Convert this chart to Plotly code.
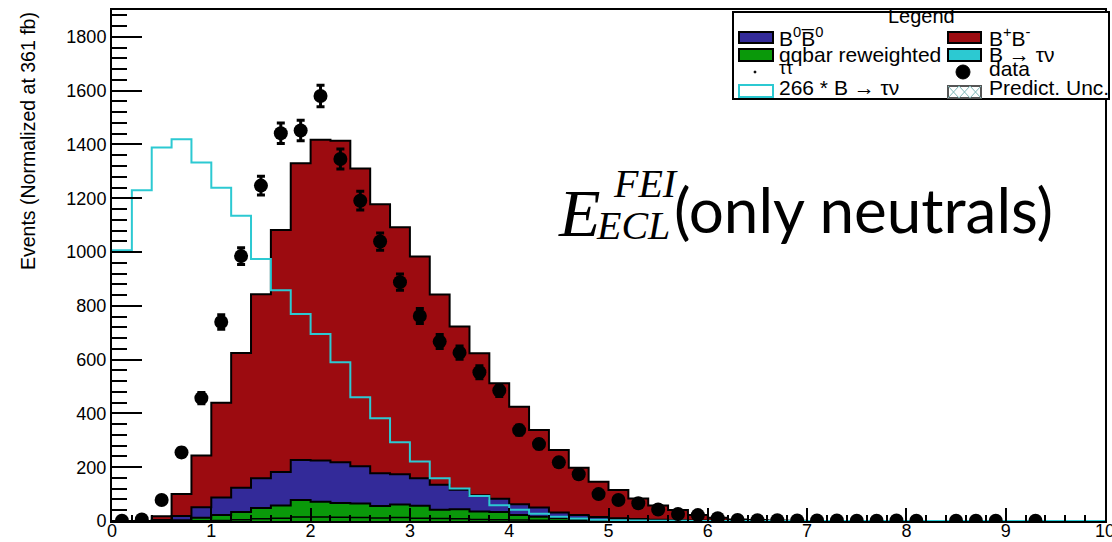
import numpy as np
import plotly.graph_objects as go

# Binning: 50 bins of width 0.2 between 0 and 10
bin_edges = [round(0.2 * k, 1) for k in range(51)]
bin_centers = [round(0.1 + 0.2 * k, 1) for k in range(50)]

# Stack components (events per bin)
tautau = [0, 0, 0, 0, 1, 2, 5, 8, 10, 15, 15, 14, 13, 11, 13, 10, 9, 8, 6, 5,
          4, 3, 2, 1, 1, 0, 0, 0, 0, 0, 0, 0, 0, 0, 0, 0, 0, 0, 0, 0,
          0, 0, 0, 0, 0, 0, 0, 0, 0, 0]
qqbar = [0, 0, 0, 3, 11, 20, 28, 40, 48, 63, 57, 53, 52, 45, 48, 47, 33, 36, 29, 28,
         18, 13, 9, 7, 4, 3, 2, 1, 0, 0, 0, 0, 0, 0, 0, 0, 0, 0, 0, 0,
         0, 0, 0, 0, 0, 0, 0, 0, 0, 0]
b0b0bar = [0, 0, 4, 16, 39, 65, 91, 111, 124, 149, 153, 151, 139, 122, 113, 102, 93, 72, 61, 50,
           40, 34, 21, 14, 10, 7, 5, 4, 3, 2, 1, 0, 0, 0, 0, 0, 0, 0, 0, 0,
           0, 0, 0, 0, 0, 0, 0, 0, 0, 0]
bplusbminus = [0, 0, 14, 81, 193, 353, 501, 684, 900, 1103, 1193, 1196, 1107, 1000, 918, 824, 707, 607, 528, 429,
               363, 288, 232, 176, 131, 105, 77, 53, 38, 20, 11, 6, 4, 2, 1, 0, 0, 0, 0, 0,
               0, 0, 0, 0, 0, 0, 0, 0, 0, 0]

# Signal B -> tau nu scaled by 266
signal_x266 = [1007, 1230, 1389, 1419, 1333, 1239, 1135, 974, 858, 770, 695, 590, 460, 382, 293, 221, 159, 121, 93, 59,
               42, 27, 16, 9, 5, 3, 2, 1, 1, 0, 0, 0, 0, 0, 0, 0, 0, 0, 0, 0,
               0, 0, 0, 0, 0, 0, 0, 0, 0, 0]

# Data (None = empty bin)
data = [1, 6, 78, 255, 457, 740, 985, 1247, 1442, 1452, 1580, 1346, 1191, 1039, 888, 762, 667, 626, 553, 485,
        338, 286, 218, 174, 100, 78, 66, 43, 26, 22, 10, 4, 3, 3, 2, 2, 2, 1, 1, 2,
        1, None, 1, 1, 1, None, 1, None, None, None]
data_err = [1, 2.5, 9, 16, 21, 27, 31, 35, 38, 38, 40, 37, 35, 32, 30, 28, 26, 25, 24, 22,
            18, 17, 15, 13, 10, 9, 8, 7, 5, 5, 3, 2, 2, 2, 1.4, 1.4, 1.4, 1, 1, 1.4,
            1, 0, 1, 1, 1, 0, 1, 0, 0, 0]

x_ticks = list(range(0, 11))
y_ticks = list(range(0, 1801, 200))

RED = "#9c0b10"
BLUE = "#332a99"
GREEN = "#0a990a"
CYAN = "#2cc9d2"
TXT = "Liberation Sans, Arial, sans-serif"

# cumulative stack levels
lvl_tt = np.array(tautau, dtype=float)
lvl_qq = lvl_tt + np.array(qqbar)
lvl_b0 = lvl_qq + np.array(b0b0bar)
lvl_bp = lvl_b0 + np.array(bplusbminus)


def step_y(vals):
    v = list(vals)
    return v + [v[-1]]


fig = go.Figure()

for level, color in [(lvl_bp, RED), (lvl_b0, BLUE), (lvl_qq, GREEN)]:
    fig.add_trace(go.Scatter(
        x=bin_edges, y=step_y(level), mode="lines", line_shape="hv",
        line=dict(color="black", width=2), fill="tozeroy", fillcolor=color,
        showlegend=False, hoverinfo="skip"))

# tau tau: outline only
fig.add_trace(go.Scatter(
    x=bin_edges, y=step_y(lvl_tt), mode="lines", line_shape="hv",
    line=dict(color="black", width=1.5), showlegend=False, hoverinfo="skip"))

# 266 * B -> tau nu
fig.add_trace(go.Scatter(
    x=bin_edges, y=step_y(signal_x266), mode="lines", line_shape="hv",
    line=dict(color=CYAN, width=2), showlegend=False, hoverinfo="skip"))

# data points
fig.add_trace(go.Scatter(
    x=bin_centers, y=data, mode="markers",
    marker=dict(color="black", size=14),
    error_y=dict(type="data", array=data_err, visible=True, color="black",
                 thickness=3, width=4),
    showlegend=False, hoverinfo="skip"))

# ---- pixel helpers for overlay placement ----
X0, X1, Y0, Y1 = 112, 1105, 521, 10


def px(x):
    return (x - X0) / (X1 - X0)


def py(y):
    return (Y0 - y) / (Y0 - Y1)


shapes = []
annotations = []

# legend frame
shapes.append(dict(type="rect", xref="paper", yref="paper",
                   x0=px(733), x1=px(1109), y0=py(99), y1=py(12),
                   line=dict(color="black", width=2), fillcolor="white", layer="above"))
annotations.append(dict(x=px(921), y=py(16), xref="paper", yref="paper",
                        text="Legend", showarrow=False, xanchor="center", yanchor="middle",
                        font=dict(family=TXT, size=20, color="black")))


def box(x0, y0, x1, y1, fill, edge="black"):
    shapes.append(dict(type="rect", xref="paper", yref="paper",
                       x0=px(x0), x1=px(x1), y0=py(y1), y1=py(y0),
                       line=dict(color=edge, width=2), fillcolor=fill, layer="above"))


def label(x, y, text, size=21):
    annotations.append(dict(x=px(x), y=py(y), xref="paper", yref="paper",
                            text=text, showarrow=False, xanchor="left", yanchor="middle",
                            font=dict(family=TXT, size=size, color="black")))


# left column
box(739, 32, 773, 43, BLUE)
label(777, 37, "B<sup>0</sup>B\u0305<sup>0</sup>")
box(739, 49, 773, 61, GREEN)
label(777, 54, "qqbar reweighted")
shapes.append(dict(type="circle", xref="paper", yref="paper",
                   x0=px(754), x1=px(756), y0=py(73), y1=py(71),
                   line=dict(color="black", width=1), fillcolor="black", layer="above"))
label(777, 68, "\u03c4\u03c4", size=18)
box(739, 85, 773, 97, "white", CYAN)
label(777, 87, "266 * B \u2192 \u03c4\u03bd")

# right column
box(948, 32, 981, 43, RED)
label(987, 37, "B<sup>+</sup>B<sup>-</sup>")
box(948, 49, 981, 61, CYAN)
label(987, 54, "B \u2192 \u03c4\u03bd")
shapes.append(dict(type="circle", xref="paper", yref="paper",
                   x0=px(956), x1=px(970), y0=py(79), y1=py(65),
                   line=dict(color="black", width=1), fillcolor="black", layer="above"))
label(987, 68, "data")
box(948, 86, 981, 98, "white", "#555555")
for xa, xb in [(948, 959), (959, 970), (970, 981)]:
    shapes.append(dict(type="line", xref="paper", yref="paper",
                       x0=px(xa), x1=px(xb), y0=py(98), y1=py(86),
                       line=dict(color="#7fb8b8", width=1), layer="above"))
    shapes.append(dict(type="line", xref="paper", yref="paper",
                       x0=px(xa), x1=px(xb), y0=py(86), y1=py(98),
                       line=dict(color="#7fb8b8", width=1), layer="above"))
label(987, 87, "Predict. Unc.")

# y axis title (right-aligned to top of axis)
annotations.append(dict(x=px(28), y=py(10), xref="paper", yref="paper",
                        text="Events (Normalized at 361 fb)", textangle=-90,
                        showarrow=False, xanchor="center", yanchor="top",
                        font=dict(family=TXT, size=19.5, color="black")))

# variable label
SERIF = "Liberation Serif, Times New Roman, serif"
annotations.append(dict(x=px(556), y=py(213), xref="paper", yref="paper",
                        text="<i>E</i>", showarrow=False, xanchor="left", yanchor="middle",
                        font=dict(family=SERIF, size=68, color="black")))
annotations.append(dict(x=px(611), y=py(183), xref="paper", yref="paper",
                        text="<i>FEI</i>", showarrow=False, xanchor="left", yanchor="middle",
                        font=dict(family=SERIF, size=40, color="black")))
annotations.append(dict(x=px(594), y=py(225), xref="paper", yref="paper",
                        text="<i>ECL</i>", showarrow=False, xanchor="left", yanchor="middle",
                        font=dict(family=SERIF, size=40, color="black")))
annotations.append(dict(x=px(672), y=py(209), xref="paper", yref="paper",
                        text="(only neutrals)", showarrow=False, xanchor="left", yanchor="middle",
                        font=dict(family="Lato, Open Sans, sans-serif", size=62, color="black")))

fig.update_layout(
    width=1112, height=542, autosize=False,
    margin=dict(l=X0, r=1112 - X1, t=Y1, b=542 - Y0, autoexpand=False),
    plot_bgcolor="white", paper_bgcolor="white",
    shapes=shapes, annotations=annotations,
    xaxis=dict(range=[0, 10], tickvals=x_ticks, ticktext=[str(v) for v in x_ticks],
               automargin=False, ticklabeloverflow="allow", ticklabelstandoff=-8,
               ticks="inside", ticklen=13, tickwidth=1.5, tickcolor="black",
               minor=dict(ticks="inside", ticklen=6, dtick=0.2, tickwidth=1.5, tickcolor="black"),
               showline=True, linecolor="black", linewidth=2, mirror=True,
               showgrid=False, zeroline=False,
               tickfont=dict(family=TXT, size=18, color="black")),
    yaxis=dict(range=[0, 1900], tickvals=y_ticks, ticktext=[str(v) for v in y_ticks],
               automargin=False,
               ticks="inside", ticklen=30, tickwidth=1.5, tickcolor="black",
               minor=dict(ticks="inside", ticklen=15, dtick=40, tickwidth=1.5, tickcolor="black"),
               showline=True, linecolor="black", linewidth=2, mirror=True,
               showgrid=False, zeroline=False,
               tickfont=dict(family=TXT, size=18, color="black")),
)

fig.write_html("out.html")
